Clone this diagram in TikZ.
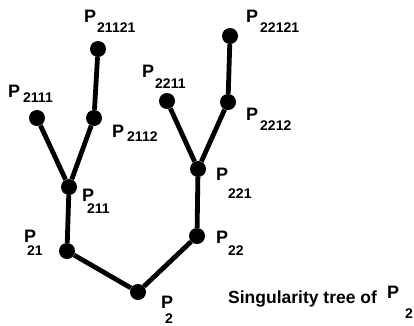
\documentclass[tikz,border=0pt]{standalone}
\usepackage{fontspec}
\setmainfont{Liberation Sans}
\begin{document}
\begin{tikzpicture}[x=1pt,y=-1pt,
  dot/.style={circle,fill=black,inner sep=0pt,minimum size=16pt},
  branch/.style={line width=4.8pt},
  pname/.style={anchor=base west,inner sep=0pt,font=\fontsize{18}{18}\selectfont\bfseries},
  pidx/.style={anchor=base west,inner sep=0pt,font=\fontsize{14}{14}\selectfont\bfseries},
  caption/.style={anchor=base west,inner sep=0pt,font=\fontsize{17.5}{17.5}\selectfont\bfseries}]
\useasboundingbox (0,0) rectangle (414,325);

% tree vertices
\node[dot] (n2)     at (138,292) {};
\node[dot] (n21)    at (67,251)  {};
\node[dot] (n22)    at (197,236) {};
\node[dot] (n211)   at (69,187)  {};
\node[dot] (n221)   at (198,169) {};
\node[dot] (n2111)  at (37,118)  {};
\node[dot] (n2112)  at (94,118)  {};
\node[dot] (n21121) at (98,49)   {};
\node[dot] (n2211)  at (167,101) {};
\node[dot] (n2212)  at (228,102) {};
\node[dot] (n22121) at (230,36)  {};

% branches
\draw[branch] (n2) -- (n21);
\draw[branch] (n2) -- (n22);
\draw[branch] (n21) -- (n211);
\draw[branch] (n22) -- (n221);
\draw[branch] (n211) -- (n2111);
\draw[branch] (n211) -- (n2112);
\draw[branch] (n2112) -- (n21121);
\draw[branch] (n221) -- (n2211);
\draw[branch] (n221) -- (n2212);
\draw[branch] (n2212) -- (n22121);

% vertex labels
\node[pname] (p21121) at (84,22)  {P};  \node[pidx] (s21121) at (97,32)  {21121};
\node[pname] (p2111)  at (8,97)   {P};  \node[pidx] (s2111)  at (23,102) {2111};
\node[pname] (p2112)  at (112,137){P};  \node[pidx] (s2112)  at (127,141){2112};
\node[pname] (p2211)  at (142,77) {P};  \node[pidx] (s2211)  at (155,88) {2211};
\node[pname] (p22121) at (246,22) {P};  \node[pidx] (s22121) at (260,32) {22121};
\node[pname] (p2212)  at (246,120){P};  \node[pidx] (s2212)  at (260,130){2212};
\node[pname] (p211)   at (82,201) {P};  \node[pidx] (s211)   at (87,213) {211};
\node[pname] (p221)   at (216,180){P};  \node[pidx] (s221)   at (228,198){221};
\node[pname] (p22)    at (216,243){P};  \node[pidx] (s22)    at (228,255){22};
\node[pname] (p21)    at (24,242) {P};  \node[pidx] (s21)    at (27,255) {21};
\node[pname] (p2)     at (161,308){P};  \node[pidx] (s2)     at (165,323){2};

% caption
\node[caption] (cap)  at (228,303) {Singularity tree of};
\node[pname] (pcap)   at (387,298) {P};
\node[pidx]  (scap)   at (405,318) {2};
\end{tikzpicture}
\end{document}
